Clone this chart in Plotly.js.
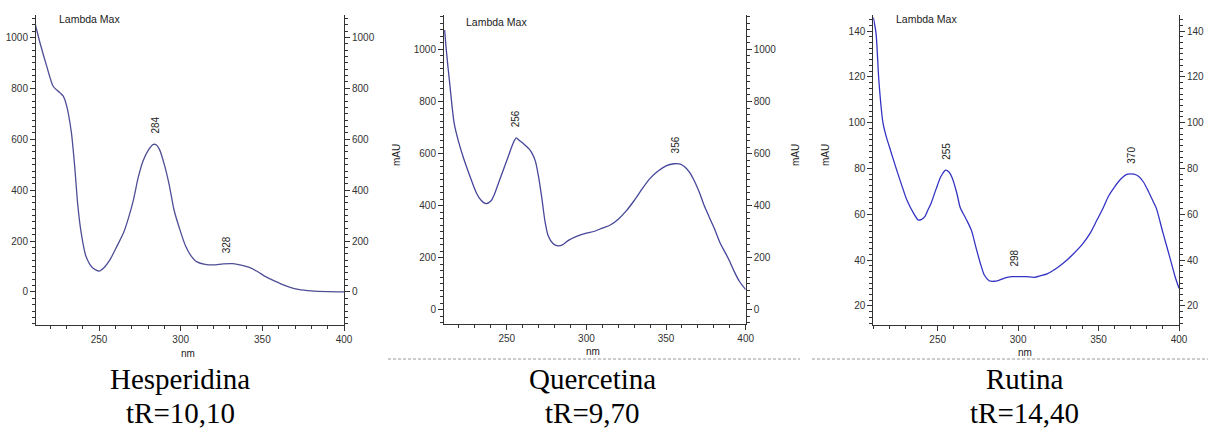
<!DOCTYPE html>
<html>
<head>
<meta charset="utf-8">
<script src="https://cdn.plot.ly/plotly-3.0.1.min.js"></script>
<style>
  html, body { margin: 0; padding: 0; background: #ffffff; }
  #chart { width: 1208px; height: 432px; }
</style>
</head>
<body>
<div id="chart"></div>
<script>
// ---------------- DATA ----------------
const hespNm  = [211, 214, 218, 222, 226, 228, 230, 233, 235, 237, 239, 242, 246, 250, 253, 257, 261, 265, 268, 271, 274, 277, 280, 283, 285, 287, 290, 293, 296, 300, 303, 306, 310, 315, 320, 326, 332, 337, 342, 347, 352, 357, 362, 367, 372, 380, 390, 400];
const hespAbs = [1050, 975, 886, 807, 783, 770, 735, 630, 500, 340, 235, 140, 95, 82, 95, 130, 180, 232, 290, 360, 450, 515, 555, 579, 578, 560, 500, 420, 320, 235, 180, 145, 118, 108, 106, 110, 111, 105, 96, 80, 60, 44, 30, 18, 10, 4, 1, 0];

const quercNm  = [211, 212, 214, 217, 220, 223, 227, 231, 234, 237, 240, 242, 245, 248, 251, 254, 256, 258, 261, 264, 266, 268, 270, 272, 274, 276, 279, 282, 285, 289, 295, 300, 305, 310, 315, 320, 325, 330, 335, 340, 345, 350, 355, 359, 362, 365, 368, 371, 374, 377, 380, 384, 387, 390, 393, 396, 400];
const quercAbs = [1074, 1000, 880, 716, 640, 580, 511, 448, 420, 408, 418, 440, 490, 540, 590, 640, 660, 650, 635, 618, 600, 570, 510, 430, 340, 285, 255, 246, 250, 268, 285, 295, 302, 314, 326, 348, 380, 420, 465, 505, 533, 553, 561, 560, 548, 526, 492, 450, 400, 358, 317, 256, 222, 186, 145, 110, 78];

const rutNm  = [210, 211.7, 213.5, 216, 218, 220, 224, 228, 231, 235, 238, 240, 242, 244, 246, 249, 252, 255, 257, 259, 262, 264, 268, 271, 274, 277, 279, 282, 285, 288, 292, 296, 300, 305, 310, 314, 318, 323, 328, 334, 340, 345, 349, 353, 356, 360, 364, 368, 372, 375, 378, 381, 384, 386, 390, 394, 397.5, 400];
const rutAbs = [146, 139, 118, 100, 94, 89.5, 80.5, 72, 66, 60.5, 57.5, 57.8, 59, 62, 65, 71, 76.5, 79.3, 78.5, 76, 69, 63, 57.5, 53, 45, 37.5, 33.5, 31, 30.8, 31.2, 32.3, 32.8, 32.8, 32.8, 32.5, 33.2, 34, 36, 38.6, 42.5, 47, 52, 57.5, 63, 67.7, 72, 75.5, 77.5, 77.5, 76.5, 74, 70, 65.5, 62.5, 52, 42, 33, 27.7];

const hespPeakNm  = [284, 328];
const hespPeakAbs = [581, 110];
const quercPeakNm  = [256, 356];
const quercPeakAbs = [660, 561];
const rutPeakNm  = [255, 298, 370];
const rutPeakAbs = [79.3, 32.8, 77.6];

const compoundNames = ["Hesperidina", "Quercetina", "Rutina"];
const retentionLabels = ["tR=10,10", "tR=9,70", "tR=14,40"];
const xTickVals = [250, 300, 350, 400];
const headerText = "Lambda Max";
const xTitle = "nm";
const yTitle = "mAU";

// ---------------- LAYOUT HELPERS ----------------
const W = 1208, H = 432;
const px = v => v / W;
const py = v => 1 - v / H;

const axisColor = '#333333';
const tickFont = { family: 'Liberation Sans, Arial, sans-serif', size: 10, color: '#333333' };

function yAxis(domTop, domBot, range, dtick, minorDtick, extra) {
  return Object.assign({
    domain: [py(domBot), py(domTop)],
    range: range,
    showline: true, linecolor: axisColor, linewidth: 1,
    ticks: 'outside', ticklen: 5, tickcolor: axisColor, tickwidth: 1,
    tickfont: tickFont, showgrid: false, zeroline: false,
    dtick: dtick, tick0: 0,
    minor: { ticks: 'outside', ticklen: 3, dtick: minorDtick, tick0: 0, tickcolor: axisColor, showgrid: false }
  }, extra || {});
}
function xAxis(domL, domR, range, anchor) {
  return {
    domain: [px(domL), px(domR)],
    range: range, anchor: anchor,
    showline: true, linecolor: axisColor, linewidth: 1,
    ticks: 'outside', ticklen: 5, tickcolor: axisColor, tickwidth: 1,
    tickfont: tickFont, showgrid: false, zeroline: false,
    tickvals: xTickVals,
    minor: { ticks: 'outside', ticklen: 3, dtick: 10, tick0: 0, tickcolor: axisColor, showgrid: false }
  };
}

const r1 = [-130, 1088], r2 = [-54, 1132], r3 = [11.7, 147];

const layout = {
  width: W, height: H,
  margin: { l: 0, r: 0, t: 0, b: 0 },
  paper_bgcolor: '#ffffff', plot_bgcolor: '#ffffff',
  showlegend: false,
  xaxis:  xAxis(36, 344, [211.4, 400], 'y'),
  xaxis2: xAxis(444, 745.7, [210.6, 400], 'y2'),
  xaxis3: xAxis(873.3, 1179, [210, 400], 'y3'),
  yaxis:  yAxis(15, 325, r1, 200, 25, { anchor: 'x' }),
  yaxis2: yAxis(15, 324, r2, 200, 25, { anchor: 'x2' }),
  yaxis3: yAxis(15, 325, r3, 20, 2.5, { anchor: 'x3' }),
  yaxis4: yAxis(15, 325, r1, 200, 25, { anchor: 'x', overlaying: 'y', side: 'right' }),
  yaxis5: yAxis(15, 324, r2, 200, 25, { anchor: 'x2', overlaying: 'y2', side: 'right' }),
  yaxis6: yAxis(15, 325, r3, 20, 2.5, { anchor: 'x3', overlaying: 'y3', side: 'right' }),
  annotations: [],
  shapes: []
};

// peak labels (rotated), attached to data
function peakAnns(nms, vals, xr, yr) {
  return nms.map((n, i) => ({
    x: n, y: vals[i], xref: xr, yref: yr,
    text: String(n), textangle: -90, showarrow: false,
    xanchor: 'center', yanchor: 'middle', yshift: 19,
    font: { family: 'Liberation Sans, Arial, sans-serif', size: 10, color: '#222222' }
  }));
}
layout.annotations.push(...peakAnns(hespPeakNm, hespPeakAbs, 'x', 'y'));
layout.annotations.push(...peakAnns(quercPeakNm, quercPeakAbs, 'x2', 'y2'));
layout.annotations.push(...peakAnns(rutPeakNm, rutPeakAbs, 'x3', 'y3'));

function paperText(text, x, y, font, angle, pad) {
  return { x: px(x), y: py(y), xref: 'paper', yref: 'paper', text: text,
           showarrow: false, xanchor: 'center', yanchor: 'middle',
           borderpad: pad === undefined ? 1 : pad,
           textangle: angle || 0, font: font };
}
const smallFont = { family: 'Liberation Sans, Arial, sans-serif', size: 10, color: '#222222' };
const headFont = { family: 'Liberation Sans, Arial, sans-serif', size: 10.5, color: '#222222' };
const serifFont = { family: 'Liberation Serif, Times New Roman, serif', size: 29, color: '#000000' };

// Lambda Max headers
layout.annotations.push(paperText(headerText, 89, 19, headFont));
layout.annotations.push(paperText(headerText, 496, 22, headFont));
layout.annotations.push(paperText(headerText, 927, 18.5, headFont));
// nm titles
layout.annotations.push(paperText(xTitle, 188, 353, smallFont));
layout.annotations.push(paperText(xTitle, 593, 351, smallFont));
layout.annotations.push(paperText(xTitle, 1025, 352, smallFont));
// mAU titles
layout.annotations.push(paperText(yTitle, 396, 155, smallFont, -90));
layout.annotations.push(paperText(yTitle, 795, 155, smallFont, -90));
layout.annotations.push(paperText(yTitle, 825, 155, smallFont, -90));
// Compound names and retention times
const centers = [180, 592, 1024];
compoundNames.forEach((n, i) => {
  layout.annotations.push(paperText(n, centers[i], 379, serifFont, 0, 0));
  layout.annotations.push(paperText(retentionLabels[i], centers[i], 413, serifFont, 0, 0));
});

// dashed separators
layout.shapes.push({ type: 'line', xref: 'paper', yref: 'paper', x0: px(388), x1: px(800), y0: py(359), y1: py(359),
  line: { color: '#9a9a9a', width: 1, dash: '3px,2px' } });
layout.shapes.push({ type: 'line', xref: 'paper', yref: 'paper', x0: px(812), x1: px(1208), y0: py(359), y1: py(359),
  line: { color: '#9a9a9a', width: 1, dash: '3px,2px' } });

const traces = [
  { x: hespNm, y: hespAbs, xaxis: 'x', yaxis: 'y', type: 'scatter', mode: 'lines',
    line: { color: '#4e4e96', width: 1.3, shape: 'spline', smoothing: 0.7 }, hoverinfo: 'skip' },
  { x: quercNm, y: quercAbs, xaxis: 'x2', yaxis: 'y2', type: 'scatter', mode: 'lines',
    line: { color: '#46469a', width: 1.3, shape: 'spline', smoothing: 0.7 }, hoverinfo: 'skip' },
  { x: rutNm, y: rutAbs, xaxis: 'x3', yaxis: 'y3', type: 'scatter', mode: 'lines',
    line: { color: '#3434c4', width: 1.3, shape: 'spline', smoothing: 0.7 }, hoverinfo: 'skip' },
  // invisible traces so right-hand axes render
  { x: [300], y: [0], xaxis: 'x', yaxis: 'y4', type: 'scatter', mode: 'markers', marker: { opacity: 0 }, hoverinfo: 'skip' },
  { x: [300], y: [0], xaxis: 'x2', yaxis: 'y5', type: 'scatter', mode: 'markers', marker: { opacity: 0 }, hoverinfo: 'skip' },
  { x: [300], y: [30], xaxis: 'x3', yaxis: 'y6', type: 'scatter', mode: 'markers', marker: { opacity: 0 }, hoverinfo: 'skip' }
];

Plotly.newPlot('chart', traces, layout, { displayModeBar: false, staticPlot: true });
</script>
</body>
</html>
